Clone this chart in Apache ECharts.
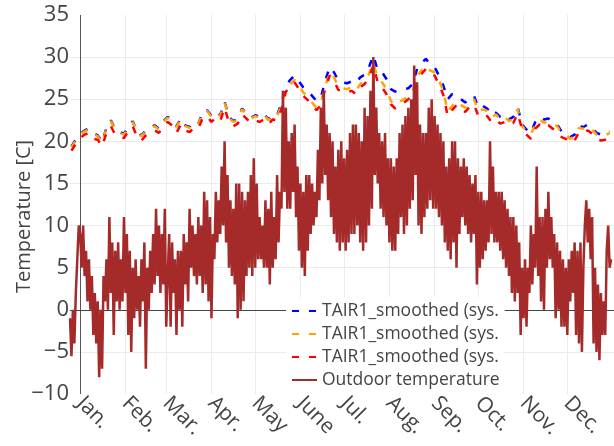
<!DOCTYPE html>
<html>
<head>
<meta charset="utf-8">
<script src="https://cdn.jsdelivr.net/npm/echarts@6/dist/echarts.min.js"></script>
<style>
  html, body { margin: 0; padding: 0; background: #fff; }
  #chart { width: 614px; height: 446px; }
</style>
</head>
<body>
<div id="chart"></div>
<script>
// x is day of year, 0 = Jan 1
const monthStarts = [0, 31, 59, 90, 120, 151, 181, 212, 243, 273, 304, 334];
const monthNames = ['Jan.', 'Feb.', 'Mar.', 'Apr.', 'May', 'June', 'Jul.', 'Aug.', 'Sep.', 'Oct.', 'Nov.', 'Dec.'];
const yTicks = [-10, -5, 0, 5, 10, 15, 20, 25, 30, 35];

// outdoor temperature, one reading per day starting at outdoorFirstDay
const outdoorFirstDay = -7;
const outdoorTemp = [
  -1, -5.5, 0, -4, 2, 6, 10,
  9, 5, 10, 4, 7, 1, 6, 0, 4, -3, 2, -4, 1, -8, 0, -7,
  4, 1, 6, 0, 11, 2, 8, -3, 7, 1, 8, 0, 6, 1, 11, 2,
  9, -3, 7, -5, 5, -1, 6, 0, 4, -2, 6, 1, 8, -7, 5, 0,
  7, 2, 9, 3, 12, 4, 10, 2, 9, 3, 12, -2,
  4, 9, -2, 8, 2, 6, -3, 7, 0, 7, -2, 9, 3, 8, 1, 12,
  5, 10, 4, 9, 3, 11, 4, 10, 2, 14, 3, 13, 1, 11, -1, 9,
  6, 14, 8, 13, 9, 17, 10, 20, 8, 16, 5, 13, 4, 12, 3, 15,
  -1, 15, 0, 14, 1, 13, 4, 14, 5, 16, 4, 18,
  5, 15, 6, 11, 6, 10, 5, 13, 5, 12, 3, 14, 5, 11, 6, 16,
  8, 14, 12, 26, 14, 24, 12, 20, 12, 21, 14, 22, 11, 17, 7, 15,
  5, 14, 4, 16, 7, 16, 9, 15, 10, 14, 11, 19, 13, 24, 15, 26,
  16, 22, 13, 21, 11, 20, 9, 17, 8, 19, 7, 20,
  8, 18, 7, 19, 8, 21, 9, 22, 9, 22, 10, 21, 8, 20, 7, 24,
  8, 23, 10, 26, 12, 30, 16, 24, 15, 21, 12, 20, 11, 21, 10, 18,
  8, 18, 7, 17, 7, 18, 9, 21, 11, 22, 9, 23, 10, 24, 12, 25,
  13, 29, 16, 27, 10, 22, 9, 21, 11, 21, 12, 24, 13, 25, 12, 23,
  12, 22, 11, 21, 10, 20, 8, 17, 7, 18, 6, 20, 8, 20, 5, 18,
  9, 17, 11, 18, 10, 17, 9, 16, 8, 15, 9, 16, 3, 14, 5, 14,
  6, 13, 7, 13, 8, 20, 9, 17, 8, 14, 8, 14, 7, 14, 6, 13,
  5, 12, 4, 11, 2, 11, 1, 10, 2, 8, -3, 5, -1, 6, -2, 5,
  2, 10, 3, 9, 5, 17, 4, 11, 1, 11, 0, 12, 5, 14, 6, 11,
  5, 9, -1, 8, 0, 7, -2, 6, -2, 5, -3, 6, 1, 7, 2, 8,
  -3, 7, -4, 8, -5, 5, 10, 13, 8, 12, 6, 11, -4, 5, -5, 3,
  -6, 2, -3, 1, -3, 7, 10, 5, 6
];

// smoothed indoor air temperature, one value every smoothStep days
const smoothFirstDay = -6;
const smoothStep = 3;
const tairBlue = [
  19.4, 20.2,
  20.9, 21.3, 21.5, 21.0, 20.7, 19.9, 21.6, 22.5, 21.4, 21.1, 20.9, 21.7, 22.4, 21.1, 20.7, 21.3, 21.6, 21.9, 21.5, 22.4, 22.9,
  22.5, 21.8, 22.7, 21.9, 21.7, 22.3, 22.1, 23.5, 23.7, 23.0, 23.5, 23.1, 24.7, 22.9, 22.4, 22.7, 23.9, 23.3, 22.8, 23.1,
  22.9, 23.3, 22.6, 23.2, 23.1, 24.5, 26.6, 27.3, 27.8, 27.1, 26.4, 26.0, 25.4, 24.8, 25.2, 27.2, 28.8, 28.2, 27.2, 27.0,
  26.9, 27.1, 26.9, 27.6, 27.9, 28.8, 30.2, 28.4, 28.2, 27.4, 26.2, 25.9, 26.1, 26.2, 26.3, 26.8, 28.6, 29.3, 29.8, 29.1, 28.8,
  27.8, 26.6, 25.0, 25.6, 25.5, 25.0, 24.6, 25.1, 25.4, 24.0, 24.2, 23.9, 23.1, 23.4, 22.9, 23.1, 22.6, 22.9, 24.0, 22.0, 21.4,
  21.0, 22.3, 22.9, 22.6, 22.7, 22.3, 22.0, 21.2, 21.0, 20.5, 20.8, 21.8, 21.7, 22.0, 21.6, 21.0, 20.8, 20.9, 21.2
];
const tairOrange = [
  19.3, 20.1,
  20.8, 21.2, 21.4, 20.9, 20.6, 19.8, 21.5, 22.4, 21.3, 21.0, 20.8, 21.6, 22.3, 21.0, 20.6, 21.2, 21.5, 21.8, 21.4, 22.3, 22.8,
  22.4, 21.7, 22.6, 21.8, 21.6, 22.2, 22.0, 23.4, 23.6, 22.9, 23.4, 23.0, 24.6, 22.8, 22.3, 22.6, 23.8, 23.2, 22.7, 23.0,
  22.8, 23.2, 22.5, 23.1, 23.0, 24.2, 26.2, 26.8, 27.3, 26.6, 25.8, 25.3, 24.6, 24.0, 24.6, 26.5, 28.2, 27.6, 26.5, 26.3,
  26.2, 26.4, 26.0, 26.8, 27.2, 28.0, 29.3, 27.5, 27.0, 26.2, 24.8, 24.3, 24.7, 25.0, 25.3, 26.0, 27.8, 28.4, 29.0, 28.4, 28.2,
  27.2, 26.0, 23.5, 24.2, 24.8, 24.3, 24.0, 24.6, 25.0, 23.5, 23.8, 23.6, 22.8, 23.2, 22.6, 22.9, 22.4, 22.7, 23.8, 21.8, 21.2,
  20.8, 22.0, 22.6, 22.2, 22.4, 22.0, 21.8, 21.0, 20.8, 20.3, 20.6, 21.6, 21.5, 21.8, 21.4, 20.8, 20.6, 20.7, 21.0
];
const tairRed = [
  18.9, 19.7,
  20.4, 20.8, 21.0, 20.3, 20.2, 19.4, 21.0, 21.8, 20.8, 20.5, 20.4, 21.2, 21.8, 20.5, 20.1, 20.7, 21.0, 21.3, 21.0, 21.8, 22.3,
  21.9, 21.0, 22.0, 21.3, 21.1, 21.6, 21.5, 22.8, 23.0, 22.3, 22.8, 22.4, 24.0, 22.2, 21.8, 22.1, 23.2, 22.7, 22.2, 22.5,
  22.3, 22.6, 22.0, 22.6, 22.5, 23.8, 25.9, 26.4, 27.0, 26.2, 25.4, 24.9, 24.2, 23.7, 24.3, 26.2, 27.8, 27.2, 26.1, 25.9,
  25.8, 26.0, 25.6, 26.4, 26.8, 27.6, 29.0, 27.0, 26.4, 25.6, 24.4, 23.9, 24.3, 24.6, 25.0, 25.7, 27.4, 28.0, 28.6, 28.0, 27.8,
  26.8, 25.5, 23.0, 23.7, 24.3, 23.8, 23.5, 24.1, 24.4, 23.0, 23.2, 23.0, 22.3, 22.6, 22.1, 22.3, 21.9, 22.2, 23.3, 21.4, 20.8,
  20.3, 21.5, 22.0, 21.6, 21.9, 21.5, 21.2, 20.5, 20.3, 19.8, 20.1, 21.1, 21.0, 21.3, 20.9, 20.3, 20.1, 20.2, 20.5
];

const seriesNames = ['TAIR1_smoothed (sys. 1)', 'TAIR1_smoothed (sys. 2)', 'TAIR1_smoothed (sys. 3)', 'Outdoor temperature'];
const seriesColors = ['#0000ff', '#ffa500', '#ff0000', '#a52a2a'];

const FONT = '"Open Sans", "DejaVu Sans", sans-serif';
const TEXT = '#444';
const GRID = '#ebebeb';

function smoothPoints(arr) {
  return arr.map((v, i) => [smoothFirstDay + i * smoothStep, v]);
}
const outdoorPoints = outdoorTemp.map((v, i) => [outdoorFirstDay + i, v]);

const gridLines = monthStarts.slice(1).map(d => ({ xAxis: d, lineStyle: { color: GRID } }));
gridLines.push({ xAxis: 0, lineStyle: { color: '#555' } });
gridLines.push({ yAxis: 0, lineStyle: { color: TEXT } });

function dashed(idx, arr) {
  const s = {
    name: seriesNames[idx],
    type: 'line',
    data: smoothPoints(arr),
    showSymbol: false,
    symbol: 'none',
    lineStyle: { color: seriesColors[idx], width: 2.5, type: [7, 10] },
    itemStyle: { color: seriesColors[idx] }
  };
  if (idx === 0) {
    s.markLine = {
      silent: true,
      z: 1,
      symbol: 'none',
      animation: false,
      label: { show: false },
      lineStyle: { type: 'solid', width: 1 },
      data: gridLines
    };
  }
  return s;
}

const chart = echarts.init(document.getElementById('chart'));
chart.setOption({
  animation: false,
  textStyle: { fontFamily: FONT },
  grid: { left: 70, right: 0, top: 15, bottom: 52, outerBoundsMode: 'none', containLabel: false },
  legend: {
    orient: 'vertical',
    left: 286,
    top: 297,
    padding: [5, 5, 5, 5],
    backgroundColor: '#fff',
    itemWidth: 25,
    itemHeight: 14,
    itemGap: 5,
    z: 10,
    data: seriesNames,
    itemStyle: { opacity: 0 },
    formatter: n => n.slice(0, 20),
    textStyle: { fontSize: 17.5, color: TEXT, fontFamily: FONT }
  },
  xAxis: {
    type: 'value',
    min: -7,
    max: 366,
    axisLine: { show: false },
    axisTick: { show: false },
    splitLine: { show: false },
    axisLabel: {
      customValues: monthStarts,
      formatter: v => monthNames[monthStarts.indexOf(v)] || '',
      rotate: -45,
      fontSize: 21,
      color: TEXT,
      margin: 6,
      padding: [12, 0, 0, 0],
      fontFamily: FONT
    }
  },
  yAxis: {
    type: 'value',
    min: yTicks[0],
    max: yTicks[yTicks.length - 1],
    interval: 5,
    name: 'Temperature [C]',
    nameLocation: 'middle',
    nameGap: 36,
    nameMoveOverlap: false,
    nameTextStyle: { fontSize: 20, color: TEXT, fontFamily: FONT, padding: [0, 24, 0, 0] },
    axisLine: { show: false },
    axisTick: { show: false },
    splitLine: { show: true, showMinLine: false, showMaxLine: false, lineStyle: { color: GRID } },
    axisLabel: {
      fontSize: 22,
      color: TEXT,
      margin: 1,
      fontFamily: FONT,
      formatter: v => (v < 0 ? '\u2212' + Math.abs(v) : String(v))
    }
  },
  series: [
    dashed(0, tairBlue),
    dashed(1, tairOrange),
    dashed(2, tairRed),
    {
      name: seriesNames[3],
      type: 'line',
      data: outdoorPoints,
      showSymbol: false,
      symbol: 'none',
      lineStyle: { color: seriesColors[3], width: 2.5 },
      itemStyle: { color: seriesColors[3] }
    }
  ]
});
</script>
</body>
</html>
